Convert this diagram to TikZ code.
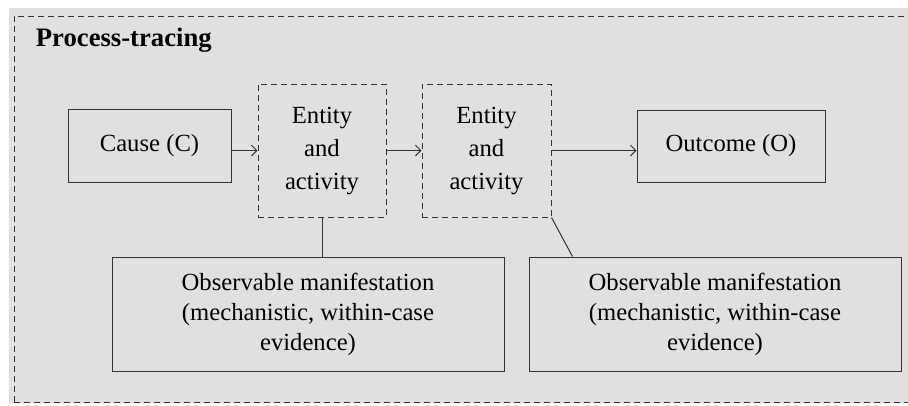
\documentclass[tikz,border=0pt]{standalone}
\usepackage{fontspec}
\setmainfont{LiberationSerif}[Extension=.ttf, UprightFont=*-Regular, BoldFont=*-Bold, ItalicFont=*-Italic]
\usetikzlibrary{arrows.meta}
\definecolor{panelgray}{HTML}{E0E0E0}
\definecolor{inkgray}{HTML}{333333}
\begin{document}
\begin{tikzpicture}
		[x=0.75pt,y=-0.75pt,
		line width=0.75pt,
		every node/.style={font=\fontsize{18.5}{22.5}\selectfont, text=black, align=center},
		plainbox/.style={
			rectangle,
			draw=inkgray,
			inner sep=0pt
		},
		dashbox/.style={plainbox, dash pattern=on 4.5pt off 3pt, font=\fontsize{18.5}{24.75}\selectfont},
		link/.style={draw=inkgray},
		flow/.style={link,-{Straight Barb[length=4pt,width=8pt]}}]
		\useasboundingbox (0,0) rectangle (908,405);
		\fill[panelgray] (9,8) rectangle (908,403);
		\draw[inkgray, dash pattern=on 4.5pt off 3pt] (14,402) -- (14,16) -- (915,16) (14,402) -- (915,402);
		\node[anchor=west, font=\fontsize{20}{22}\selectfont\bfseries] (title) at (31,40) {Process-tracing};
		\node[plainbox, minimum width=122.25pt, minimum height=54.75pt] (cause) at (149.5,145.5) {Cause (C)};
		\node[dashbox, minimum width=96pt, minimum height=99.75pt] (ent1) at (322,150.5) {Entity\\and\\activity};
		\node[dashbox, minimum width=96.75pt, minimum height=99.75pt] (ent2) at (486.5,150.5) {Entity\\and\\activity};
		\node[plainbox, minimum width=141pt, minimum height=54pt] (outcome) at (731,146) {Outcome (O)};
		\node[plainbox, minimum width=294pt, minimum height=85.5pt] (obs1) at (308,314) {Observable manifestation\\(mechanistic, within-case\\evidence)};
		\node[plainbox, minimum width=279pt, minimum height=85.5pt] (obs2) at (715,314) {Observable manifestation\\(mechanistic, within-case\\evidence)};
		\draw[flow] (cause.east |- ent1) -- (ent1.west);
		\draw[flow] (ent1.east) -- (ent2.west);
		\draw[flow] (ent2.east) -- (ent2.east -| outcome.west);
		\draw[link] (ent1.south) -- (ent1.south |- obs1.north);
		\draw[link] (ent2.south east) -- ([xshift=33pt]obs2.north west);
	\end{tikzpicture}
\end{document}
